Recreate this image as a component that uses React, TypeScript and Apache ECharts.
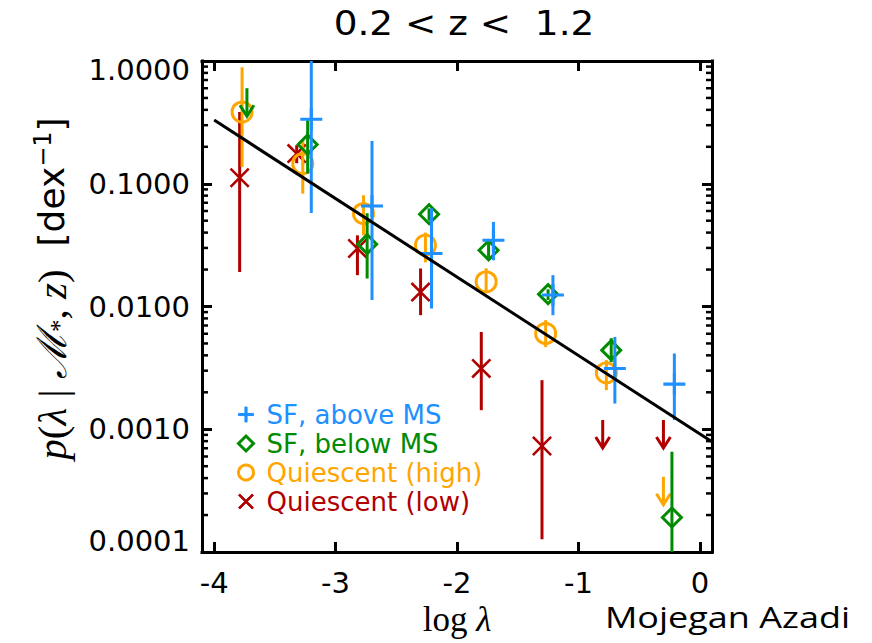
import React, { useEffect, useRef } from 'react';
import * as echarts from 'echarts';

// ---------------- data ----------------
const X_MIN = -4.1;
const X_MAX = 0.1;
const Y_MIN = 0.0001;
const Y_MAX = 1;

const titleText = '0.2 < z <  1.2';
const seriesNames = ['SF, above MS', 'SF, below MS', 'Quiescent (high)', 'Quiescent (low)'];

// black fitted line (two end points)
const fitX = [-4.0, 0.1];
const fitY = [0.33, 0.00079];

// SF, above MS (blue +)
const blueX = [-3.2, -2.7, -2.21, -1.7, -1.21, -0.7, -0.21];
const blueY = [0.335, 0.0659, 0.027, 0.0347, 0.0124, 0.00313, 0.00233];
const blueLo = [0.0578, 0.0113, 0.00963, 0.0238, 0.0085, 0.00162, 0.00119];
const blueHi = [1.0, 0.223, 0.063, 0.0489, 0.018, 0.00565, 0.00414];
const blueLim = [0, 0, 0, 0, 0, 0, 0];

// SF, below MS (green diamond)
const greenX = [-3.73, -3.23, -2.74, -2.23, -1.74, -1.25, -0.73, -0.23];
const greenY = [0.6, 0.209, 0.0322, 0.0565, 0.0287, 0.0126, 0.00441, 0.000191];
const greenLo = [null, 0.121, 0.0169, 0.05, 0.025, 0.0113, 0.00352, 0.0001];
const greenHi = [null, 0.329, 0.0575, 0.063, 0.033, 0.0138, 0.00552, 0.000656];
const greenLim = [1, 0, 0, 0, 0, 0, 0, 0];

// Quiescent (high) (orange circle)
const orangeX = [-3.77, -3.27, -2.77, -2.26, -1.76, -1.27, -0.77, -0.3];
const orangeY = [0.384, 0.146, 0.0572, 0.0316, 0.0159, 0.00603, 0.00288, 0.00041];
const orangeLo = [0.137, 0.083, 0.038, 0.0229, 0.0131, 0.00467, 0.00208, null];
const orangeHi = [0.89, 0.226, 0.0806, 0.04, 0.0205, 0.00774, 0.00366, null];
const orangeLim = [0, 0, 0, 0, 0, 0, 0, 1];

// Quiescent (low) (red x)
const redX = [-3.79, -3.32, -2.82, -2.3, -1.8, -1.3, -0.8, -0.3];
const redY = [0.112, 0.176, 0.0297, 0.0131, 0.00313, 0.00073, 0.00119, 0.00119];
const redLo = [0.0191, 0.147, 0.018, 0.0085, 0.00143, 0.000127, null, null];
const redHi = [0.384, 0.206, 0.038, 0.0204, 0.0062, 0.00251, null, null];
const redLim = [0, 0, 0, 0, 0, 0, 1, 1];

// ---------------- styles ----------------
const BLUE = '#1E90FF';
const GREEN = '#008B00';
const ORANGE = '#FFA500';
const RED = '#B00000';

const PLUS_PATH =
  'path://M-10,-1.4 L10,-1.4 L10,1.4 L-10,1.4 Z M-1.4,-10 L1.4,-10 L1.4,10 L-1.4,10 Z';
const X_PATH =
  'path://M-9.01,-10.99 L10.99,9.01 L9.01,10.99 L-10.99,-9.01 Z M10.99,-9.01 L-9.01,10.99 L-10.99,9.01 L9.01,-10.99 Z';
const DIAMOND_PATH = 'path://M0,-10 L10,0 L0,10 L-10,0 Z';

const minorTickValues: number[] = [];
for (let e = -4; e < 0; e++) {
  for (let k = 2; k <= 9; k++) minorTickValues.push(k * Math.pow(10, e));
}

function makeRows(xs: number[], ys: number[], lo: (number | null)[], hi: (number | null)[], lim: number[]) {
  return xs.map((x, i) => [x, ys[i], lo[i] ?? ys[i], hi[i] ?? ys[i], lim[i]]);
}
function makePoints(xs: number[], ys: number[], lim: number[]) {
  const out: number[][] = [];
  xs.forEach((x, i) => {
    if (!lim[i]) out.push([x, ys[i]]);
  });
  return out;
}

function errRender(color: string) {
  return (params: any, api: any) => {
    const x = api.value(0);
    const y = api.value(1);
    const lo = api.value(2);
    const hi = api.value(3);
    const lim = api.value(4);
    if (lim) {
      const p = api.coord([x, y]);
      const L = 28;
      const h = 11;
      const w = 7;
      return {
        type: 'group',
        children: [
          {
            type: 'line',
            shape: { x1: p[0], y1: p[1], x2: p[0], y2: p[1] + L },
            style: { stroke: color, lineWidth: 3 },
          },
          {
            type: 'polyline',
            shape: { points: [[p[0] - w, p[1] + L - h], [p[0], p[1] + L], [p[0] + w, p[1] + L - h]] },
            style: { stroke: color, lineWidth: 3, fill: 'none' },
          },
        ],
      };
    }
    const a = api.coord([x, hi]);
    const b = api.coord([x, lo]);
    return {
      type: 'line',
      shape: { x1: a[0], y1: a[1], x2: b[0], y2: b[1] },
      style: { stroke: color, lineWidth: 3 },
    };
  };
}

function errSeries(name: string, color: string, rows: any[], z: number) {
  return {
    name,
    type: 'custom',
    renderItem: errRender(color),
    data: rows,
    dimensions: ['x', 'y', 'lo', 'hi', 'lim'],
    encode: { x: 0, y: 1 },
    silent: true,
    z,
  };
}

const tickFont = { fontFamily: 'DejaVu Sans', fontSize: 29, color: '#000' };

export default function App() {
  const ref = useRef<HTMLDivElement>(null);

  useEffect(() => {
    if (!ref.current) return;
    const chart = echarts.init(ref.current, null, { renderer: 'svg' });

    const axisLine = { show: true, onZero: false, lineStyle: { color: '#000', width: 3, cap: 'square' } };
    const axisTick = { show: true, inside: true, length: 10, lineStyle: { color: '#000', width: 3 } };

    const option: any = {
      animation: false,
      backgroundColor: '#fff',
      grid: { left: 202, top: 61, width: 510, height: 491, containLabel: false },
      xAxis: [
        {
          type: 'value',
          position: 'bottom',
          min: X_MIN,
          max: X_MAX,
          splitNumber: 5,
          axisLine,
          axisTick,
          splitLine: { show: false },
          axisLabel: { ...tickFont, margin: 16, showMinLabel: false, showMaxLabel: false },
          name: '{r|log }{m|λ}',
          nameLocation: 'middle',
          nameGap: 44,
          nameTextStyle: {
            rich: {
              r: { fontFamily: 'Liberation Serif', fontSize: 35, color: '#000' },
              m: { fontFamily: 'Liberation Serif', fontStyle: 'italic', fontSize: 35, color: '#000' },
            },
          },
        },
        {
          type: 'value',
          position: 'top',
          min: X_MIN,
          max: X_MAX,
          splitNumber: 5,
          axisLine,
          axisTick,
          splitLine: { show: false },
          axisLabel: { show: false },
        },
      ],
      yAxis: [
        {
          type: 'log',
          logBase: 10,
          position: 'left',
          min: Y_MIN,
          max: Y_MAX,
          axisLine,
          axisTick,
          splitLine: { show: false },
          axisLabel: {
            margin: 12,
            formatter: (v: number) => {
              const s = v.toFixed(4);
              if (v > 0.5) return `{top|${s}}`;
              if (v < 0.0002) return `{bot|${s}}`;
              return `{n|${s}}`;
            },
            rich: {
              n: { ...tickFont },
              top: { ...tickFont, padding: [18, 0, 0, 0] },
              bot: { ...tickFont, padding: [0, 0, 22, 0] },
            },
          },
          name: '{m|p}{r|(}{m|λ}{r| | }{m|ℳ}{sub|*}{r|, }{m|z}{r|)}{s|  [dex}{sup|−1}{s|]}',
          nameLocation: 'middle',
          nameGap: 130,
          nameTextStyle: {
            padding: [0, 0, 0, 36],
            rich: {
              m: { fontFamily: 'Liberation Serif', fontStyle: 'italic', fontSize: 41, color: '#000' },
              r: { fontFamily: 'Liberation Serif', fontSize: 41, color: '#000' },
              sub: { fontFamily: 'Liberation Serif', fontSize: 25, color: '#000', verticalAlign: 'bottom' },
              s: { fontFamily: 'DejaVu Sans', fontSize: 36, color: '#000' },
              sup: { fontFamily: 'DejaVu Sans', fontSize: 24, color: '#000', verticalAlign: 'top' },
            },
          },
        },
        {
          type: 'log',
          logBase: 10,
          position: 'right',
          min: Y_MIN,
          max: Y_MAX,
          axisLine,
          axisTick,
          splitLine: { show: false },
          axisLabel: { show: false },
        },
      ],
      legend: {
        orient: 'vertical',
        left: 237,
        top: 400,
        padding: 0,
        itemWidth: 31,
        itemHeight: 15,
        itemGap: 0,
        selectedMode: false,
        textStyle: { fontFamily: 'DejaVu Sans', fontSize: 26, lineHeight: 29 },
        data: [
          { name: seriesNames[0], textStyle: { color: BLUE }, itemStyle: { borderWidth: 1, borderColor: BLUE } },
          { name: seriesNames[1], textStyle: { color: GREEN }, itemStyle: { borderWidth: 3 } },
          { name: seriesNames[2], textStyle: { color: ORANGE }, itemStyle: { borderWidth: 3 } },
          { name: seriesNames[3], textStyle: { color: RED }, itemStyle: { borderWidth: 1, borderColor: RED } },
        ],
      },
      graphic: [
        {
          type: 'text',
          x: 464,
          y: 23,
          scaleX: 1.1,
          style: {
            text: titleText,
            fontFamily: 'DejaVu Sans',
            fontSize: 34,
            fill: '#000',
            align: 'center',
            verticalAlign: 'middle',
          },
        },
        {
          type: 'text',
          x: 605,
          y: 617,
          scaleX: 1.2,
          style: {
            text: 'Mojegan Azadi',
            fontFamily: 'Open Sans',
            fontSize: 30,
            fill: '#000',
            align: 'left',
            verticalAlign: 'middle',
          },
        },
      ],
      series: [
        {
          name: 'minor ticks',
          type: 'custom',
          silent: true,
          z: 1,
          data: minorTickValues.map((v) => [X_MIN, v]),
          encode: { x: 0, y: 1 },
          renderItem: (params: any, api: any) => {
            const v = api.value(1);
            const l = api.coord([X_MIN, v]);
            const r = api.coord([X_MAX, v]);
            return {
              type: 'group',
              children: [
                { type: 'line', shape: { x1: l[0], y1: l[1], x2: l[0] + 6, y2: l[1] }, style: { stroke: '#000', lineWidth: 2.5 } },
                { type: 'line', shape: { x1: r[0], y1: r[1], x2: r[0] - 6, y2: r[1] }, style: { stroke: '#000', lineWidth: 2.5 } },
              ],
            };
          },
        },
        errSeries('err low', RED, makeRows(redX, redY, redLo, redHi, redLim), 2),
        {
          name: seriesNames[3],
          type: 'scatter',
          symbol: X_PATH,
          symbolSize: 20,
          itemStyle: { color: RED, borderColor: RED, borderWidth: 0, opacity: 1 },
          data: makePoints(redX, redY, redLim),
          z: 3,
        },
        errSeries('err high', ORANGE, makeRows(orangeX, orangeY, orangeLo, orangeHi, orangeLim), 4),
        {
          name: seriesNames[2],
          type: 'scatter',
          symbol: 'circle',
          symbolSize: 20,
          itemStyle: { color: 'rgba(0,0,0,0)', borderColor: ORANGE, borderWidth: 3, opacity: 1 },
          data: makePoints(orangeX, orangeY, orangeLim),
          z: 5,
        },
        errSeries('err below', GREEN, makeRows(greenX, greenY, greenLo, greenHi, greenLim), 6),
        {
          name: seriesNames[1],
          type: 'scatter',
          symbol: DIAMOND_PATH,
          symbolSize: 19,
          itemStyle: { color: 'rgba(0,0,0,0)', borderColor: GREEN, borderWidth: 3, opacity: 1 },
          data: makePoints(greenX, greenY, greenLim),
          z: 7,
        },
        errSeries('err above', BLUE, makeRows(blueX, blueY, blueLo, blueHi, blueLim), 8),
        {
          name: seriesNames[0],
          type: 'scatter',
          symbol: PLUS_PATH,
          symbolSize: 22,
          itemStyle: { color: BLUE, borderColor: BLUE, borderWidth: 0, opacity: 1 },
          data: makePoints(blueX, blueY, blueLim),
          z: 9,
        },
        {
          name: 'fit',
          type: 'line',
          data: fitX.map((x, i) => [x, fitY[i]]),
          symbol: 'none',
          lineStyle: { color: '#000', width: 3 },
          silent: true,
          z: 10,
        },
      ],
    };

    chart.setOption(option);
    return () => chart.dispose();
  }, []);

  return (
    <div
      ref={ref}
      style={{ position: 'fixed', left: 0, top: 0, width: 872, height: 643, background: '#fff' }}
    />
  );
}
